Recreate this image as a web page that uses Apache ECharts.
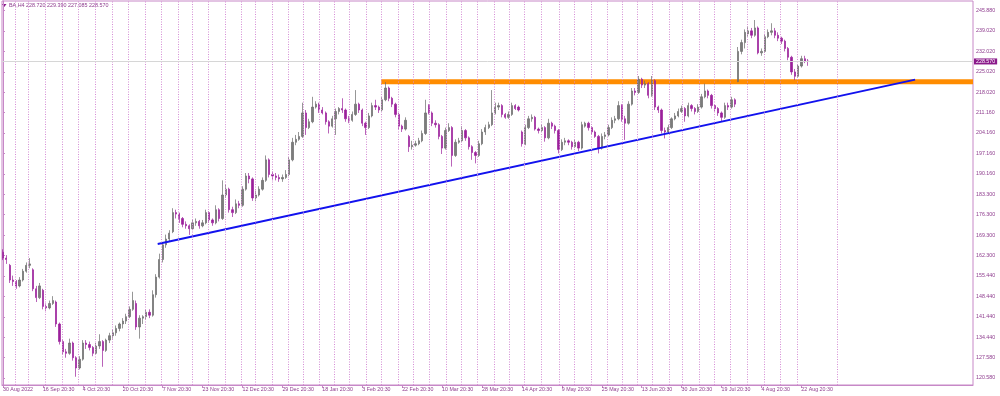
<!DOCTYPE html>
<html><head><meta charset="utf-8">
<script src="https://cdn.jsdelivr.net/npm/echarts@6/dist/echarts.min.js"></script>
<style>html,body{margin:0;padding:0;background:#fff}#c{width:1000px;height:396px}</style>
</head><body><div id="c"></div>
<script>
const symbolName = 'BA,H4';
// [open, close, low, high] per bar
const candles = [
[163.5,161.5,160.8,164.5],[161.5,161.0,159.5,162.5],[159.0,154.0,153.0,159.5],[154.0,153.5,152.0,155.5],[153.5,152.0,151.0,154.0],
[152.0,154.0,151.5,155.0],[154.0,157.0,153.5,157.8],[157.0,159.0,156.5,160.0],[159.0,159.5,158.0,161.5],[157.5,151.0,150.2,158.0],
[151.0,148.0,146.5,152.0],[148.0,152.0,147.5,153.0],[150.5,145.0,144.0,151.0],[145.0,144.5,143.5,146.0],[144.5,146.0,144.0,147.0],
[146.0,147.0,145.5,148.5],[146.5,139.0,138.0,147.0],[139.0,133.0,132.0,139.5],[133.0,129.5,128.5,133.5],[129.5,129.0,127.5,130.5],
[129.0,132.5,128.5,134.0],[132.5,127.5,126.5,133.0],[127.5,124.0,121.0,128.0],[124.0,127.0,123.5,128.0],[127.0,132.5,126.5,133.5],
[132.5,132.0,130.5,133.5],[132.0,131.0,130.0,133.0],[131.0,129.0,128.0,131.5],[129.0,131.5,128.5,132.5],[131.5,133.0,130.5,135.5],
[133.0,130.0,124.4,133.5],[130.0,133.5,129.5,134.0],[133.5,135.0,132.5,136.0],[135.0,136.0,134.0,137.0],[136.0,137.5,135.0,138.5],
[137.5,139.0,136.5,139.5],[139.0,140.0,137.5,141.0],[140.0,141.5,139.0,142.5],[141.5,144.0,141.0,145.0],[144.0,147.0,143.5,150.0],
[146.0,138.0,137.0,147.0],[138.0,141.0,134.0,142.0],[141.0,141.5,139.0,142.0],[141.5,143.0,140.5,144.0],[143.0,142.0,141.0,144.0],
[142.0,149.0,141.5,150.5],[149.0,155.0,148.0,156.0],[155.0,161.0,154.5,163.0],[161.0,166.0,160.0,167.0],[166.0,168.0,165.0,169.5],
[168.0,170.0,167.0,171.0],[170.5,177.0,170.0,178.5],[177.0,176.5,175.0,178.0],[176.5,175.0,173.5,177.0],[175.0,173.0,172.0,175.5],
[173.0,172.5,171.5,174.0],[172.5,171.5,169.4,173.0],[171.5,173.5,171.0,174.5],[173.5,174.0,172.5,175.0],[174.0,172.5,171.5,174.5],
[172.5,173.5,172.0,174.5],[173.5,177.0,173.0,178.0],[177.0,174.5,173.5,177.5],[174.5,173.5,172.5,175.0],[173.5,178.0,173.0,179.5],
[178.0,175.0,174.0,178.5],[175.0,183.0,174.5,188.0],[183.0,185.0,182.0,186.5],[185.0,178.0,177.0,185.5],[178.0,177.0,175.5,179.0],
[177.0,180.0,176.5,181.5],[180.0,179.5,178.5,181.0],[179.5,185.0,179.0,186.0],[185.0,189.5,184.5,190.5],[189.5,188.5,187.0,190.5],
[188.5,182.0,181.0,189.0],[182.0,183.0,181.0,184.5],[183.0,185.0,182.5,186.0],[185.0,188.0,184.5,189.0],[188.0,195.0,187.5,196.5],
[195.0,190.0,189.0,195.5],[190.0,189.5,188.0,191.0],[189.5,189.0,188.0,190.5],[189.0,188.5,187.5,190.0],[188.5,189.0,187.5,190.0],
[189.0,190.0,188.5,191.5],[190.0,195.0,189.5,196.0],[195.0,201.0,194.5,202.5],[201.0,202.0,200.0,203.5],[202.0,203.0,201.5,204.5],
[203.0,211.0,202.5,214.5],[211.0,206.0,203.5,212.0],[206.0,208.0,205.5,209.0],[208.0,213.0,207.5,216.5],[213.0,214.0,212.5,215.0],
[214.0,212.0,211.0,214.5],[212.0,211.0,210.5,213.0],[211.0,208.0,207.0,211.5],[208.0,206.5,204.0,208.5],[206.5,209.0,206.0,210.0],
[209.0,211.5,203.5,212.5],[211.5,212.5,210.5,213.0],[212.5,212.0,211.0,216.0],[212.0,209.0,208.0,212.5],[209.0,208.5,207.5,210.0],
[208.5,210.5,208.0,211.5],[210.5,214.0,210.0,218.8],[214.0,212.0,211.0,214.5],[212.0,207.5,206.5,212.5],[207.5,206.0,203.5,208.0],
[206.0,210.0,205.5,211.0],[210.0,213.5,209.5,214.5],[213.5,213.0,212.0,215.5],[213.0,212.0,211.0,213.5],[212.0,215.5,211.5,216.5],
[215.5,219.5,215.0,221.5],[219.5,216.0,215.0,220.0],[216.0,214.0,213.0,216.5],[214.0,210.5,209.5,214.5],[210.5,206.5,205.5,211.0],
[206.5,205.5,204.5,207.0],[205.5,208.5,205.0,209.5],[203.0,199.5,197.7,203.5],[199.5,200.0,198.5,201.5],[200.0,200.5,199.5,201.5],
[200.5,201.5,200.0,202.5],[201.5,204.0,201.0,205.0],[204.0,211.0,203.5,215.5],[213.5,211.0,210.5,214.0],[211.0,207.5,206.5,211.5],
[207.5,207.0,206.0,208.5],[207.0,203.0,202.0,207.5],[203.0,199.0,197.0,203.5],[199.0,205.0,198.5,206.0],[205.0,206.0,204.5,207.5],
[206.0,196.5,192.7,206.5],[196.5,201.0,196.0,202.0],[201.0,201.5,200.5,202.5],[201.5,205.0,201.0,206.5],[205.0,202.5,201.5,205.5],
[202.5,199.5,198.5,203.0],[199.5,197.5,195.0,200.0],[197.5,196.5,193.8,198.0],[196.5,200.5,196.0,201.5],[200.5,204.5,200.0,205.5],
[204.5,206.0,203.5,207.0],[206.0,207.0,205.5,208.0],[207.0,211.0,206.5,218.8],[211.0,213.0,210.5,214.5],[213.0,213.5,212.0,214.5],
[213.5,210.5,209.5,214.0],[210.5,209.5,209.0,211.0],[209.5,210.5,209.0,211.5],[210.5,213.5,210.0,214.5],[213.5,212.5,212.0,214.0],
[213.0,212.0,211.5,213.5],[204.5,200.5,199.5,205.0],[200.5,206.0,200.0,207.0],[206.0,209.0,205.5,210.0],[209.0,209.5,208.0,210.5],
[209.5,205.5,205.0,210.0],[205.5,205.0,204.0,206.0],[205.0,206.0,204.5,207.0],[206.0,202.5,201.2,206.5],[202.5,207.5,202.0,209.0],
[207.5,206.5,205.5,208.0],[206.5,205.0,204.0,207.0],[205.0,198.5,197.2,205.5],[198.5,201.0,198.0,202.0],[201.0,201.5,200.0,202.5],
[201.5,201.0,200.0,202.0],[201.0,199.5,198.5,201.5],[199.5,201.0,199.0,202.0],[201.0,199.0,198.0,201.5],[199.0,207.0,198.5,208.0],
[206.5,207.5,206.0,208.0],[207.5,206.0,205.0,208.0],[206.0,204.5,203.5,206.5],[204.5,203.0,202.5,205.0],[203.0,199.0,197.2,203.5],
[199.0,203.0,198.5,204.0],[203.0,203.5,202.0,204.5],[203.5,206.0,203.0,207.0],[206.0,208.5,205.5,209.5],[208.5,209.0,207.5,210.0],
[209.0,213.5,208.5,215.0],[213.5,209.0,208.0,214.0],[209.0,207.5,201.8,210.0],[207.5,214.0,207.0,215.0],[214.0,218.5,213.5,219.5],
[218.5,218.0,217.0,219.5],[218.0,222.5,217.5,223.6],[222.5,220.5,219.5,223.0],[220.5,221.0,219.5,222.0],[221.0,217.0,216.0,221.5],
[217.0,222.0,216.5,223.6],[222.0,213.0,212.0,222.5],[213.0,212.0,211.0,213.5],[212.0,205.0,204.0,212.5],[205.0,204.5,202.3,206.0],
[204.5,206.0,204.0,207.0],[206.0,209.0,205.5,209.5],[209.0,210.0,208.5,211.0],[210.0,211.5,209.5,212.5],[211.5,212.5,211.0,213.5],
[212.5,210.0,208.0,213.0],[210.0,213.5,209.5,214.5],[213.5,212.5,211.5,214.0],[212.5,211.5,210.5,213.0],[211.5,213.0,211.0,214.0],
[213.0,216.5,212.5,217.5],[216.5,218.5,216.0,221.0],[218.5,217.0,216.0,219.0],[217.0,213.5,212.5,217.5],[213.5,212.5,211.5,214.0],
[212.5,211.0,210.0,213.0],[211.0,209.5,208.0,211.5],[209.5,213.5,209.0,214.5],[213.5,213.0,212.0,214.5],[213.0,215.5,212.5,216.5],
[215.5,214.0,213.0,216.0],[221.7,232.0,221.5,233.5],[232.0,235.0,231.0,236.0],[235.0,238.5,233.0,239.5],[238.0,239.0,237.0,240.5],
[239.0,237.5,236.5,240.0],[237.5,240.0,237.0,242.7],[240.0,231.5,231.0,240.5],[231.5,232.0,230.5,233.0],[232.0,237.0,231.5,238.0],
[237.0,238.5,236.5,239.5],[238.5,239.0,237.5,241.6],[239.0,237.5,236.5,240.0],[237.5,236.5,235.5,238.5],[236.5,235.5,234.5,237.0],
[235.5,233.0,232.0,236.0],[233.0,230.0,229.0,233.5],[230.0,225.0,224.0,230.5],[225.0,223.5,222.2,226.0],[223.5,227.0,223.0,227.5],
[227.0,229.5,226.5,230.5],[229.5,228.7,228.0,230.5],[228.72,228.57,227.085,229.39]
];
const priceTicks = [120.58,127.58,134.44,141.44,148.44,155.44,162.3,169.3,176.3,183.3,190.16,197.16,204.16,211.16,218.02,225.02,232.02,239.02,245.88];
const timeLabelIdx = [0,12,24,36,48,60,72,84,96,108,120,132,144,156,168,180,192,204,216,228,240];
const timeLabels = ['30 Aug 2022','16 Sep 20:30','4 Oct 20:30','20 Oct 20:30','7 Nov 20:30','23 Nov 20:30','12 Dec 20:30','29 Dec 20:30','18 Jan 20:30','3 Feb 20:30','22 Feb 20:30','10 Mar 20:30','28 Mar 20:30','14 Apr 20:30','9 May 20:30','25 May 20:30','13 Jun 20:30','30 Jun 20:30','19 Jul 20:30','4 Aug 20:30','22 Aug 20:30'];
const weekSeparators = [3.7,7.7,12.7,17.7,22.7,27.7,32.7,37.7,42.7,47.7,52.7,56.9,61.7,66.7,71.7,75.7,80.9,85.7,90.2,95.1,99.6,104.1,109.2,113.7,118.7,123.2,128.1,133.2,137.7,142.7,147.7,152.2,156.7,161.9,167.2,171.7,176.7,181.7,186.2,190.7,195.2,200.2,204.2,209.2,213.7,218.7,223.7,228.7,233.7,238.7,250.8];
const trendLine = [[46.5,166.3],[274.2,222.36]];
const resistanceZone = [[113.7,221.64],[291.6,221.64]];
const bidPrice = 228.57;

const FONT = 'Liberation Sans';
const TXT = '#8e3c8e';
const AX = '#c788c7';
const last = candles[candles.length-1];
const header = symbolName + ' ' + [last[0], last[3], last[2], last[1]].map(v => v.toFixed(3)).join(' ');

const chart = echarts.init(document.getElementById('c'), null, {renderer:'canvas'});
chart.setOption({
  animation: false,
  backgroundColor: '#ffffff',
  grid: {left: 0, right: 27, top: 1, bottom: 11, show: true, borderColor: AX, borderWidth: 1, containLabel: false},
  graphic: [
    {type:'polygon', shape:{points:[[2,4],[6.5,4],[4.25,7]]}, style:{fill:'#8b1a8b'}},
    {type:'text', left: 9, top: 3, style:{text: header, fill: TXT, font: '5.4px "Liberation Sans"'}}
  ],
  xAxis: {
    type: 'value', min: -0.3, max: 291.6,
    axisLine: {show: true, lineStyle: {color: AX}},
    axisTick: {show: true, customValues: timeLabelIdx, length: 3, lineStyle: {color: AX}},
    axisLabel: {show: true, customValues: timeLabelIdx, align: 'left', margin: 2.5, color: TXT, fontFamily: FONT, fontSize: 5.3,
      formatter: v => timeLabels[timeLabelIdx.indexOf(Math.round(v))] || ''},
    splitLine: {show: false}
  },
  yAxis: {
    type: 'value', position: 'right', min: 118.19, max: 249.19, scale: true,
    axisLine: {show: true, lineStyle: {color: AX}},
    axisTick: {show: true, customValues: priceTicks, length: 2, lineStyle: {color: AX}},
    axisLabel: {show: true, customValues: priceTicks, margin: 3, color: TXT, fontFamily: FONT, fontSize: 5.3,
      formatter: v => v.toFixed(3)},
    splitLine: {show: false}
  },
  series: [
    {
      type: 'line', data: resistanceZone, symbol: 'none', silent: true, z: 1,
      lineStyle: {color: '#ff8c00', width: 5, cap: 'butt'},
      markLine: {
        silent: true, symbol: 'none', animation: false,
        data: weekSeparators.map(v => ({xAxis: v, label: {show: false}, lineStyle: {color: '#d48cd4', type: [1, 1.5], width: 1}}))
          .concat([{yAxis: bidPrice, lineStyle: {color: '#d6d6d6', type: 'solid', width: 1},
            label: {show: true, position: 'end', distance: 1, formatter: bidPrice.toFixed(3), color: '#ffffff',
              backgroundColor: '#8b1a8b', padding: [1, 2, 0, 2], fontFamily: FONT, fontSize: 5.3}}])
      }
    },
    {
      type: 'candlestick', z: 3,
      data: candles.map((r, i) => [i, r[0], r[1], r[2], r[3]]),
      encode: {x: 0, y: [1, 2, 3, 4]},
      barWidth: 1.8,
      itemStyle: {color: '#7c7c7c', color0: '#9b1f9b', borderColor: '#6a6a6a', borderColor0: '#9b1f9b', borderWidth: 0.7}
    },
    {
      type: 'line', data: trendLine, symbol: 'none', silent: true, z: 4,
      lineStyle: {color: '#1212ee', width: 2}
    }
  ]
});
</script>
</body></html>
